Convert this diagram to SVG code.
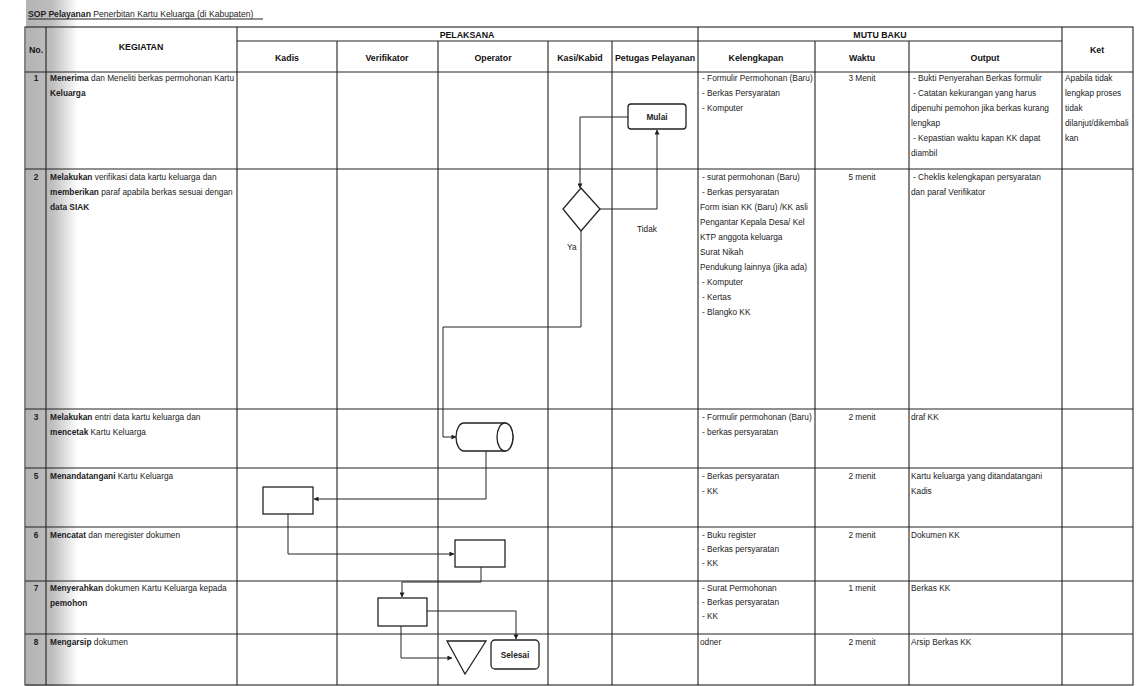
<svg xmlns="http://www.w3.org/2000/svg" width="1141" height="686" viewBox="0 0 1141 686">
<defs>
<linearGradient id="shade" x1="0" y1="0" x2="1" y2="0">
<stop offset="0" stop-color="#9a9a9a"/>
<stop offset="0.5" stop-color="#a8a8a8"/>
<stop offset="1" stop-color="#ffffff"/>
</linearGradient>
<marker id="arr" viewBox="0 0 6 6" refX="5.5" refY="3" markerWidth="5" markerHeight="5" orient="auto">
<path d="M0,0 L6,3 L0,6 z" fill="#222"/>
</marker>
<style>
.grid{stroke:#222;stroke-width:1.1;fill:none}
.t{font-family:"Liberation Sans",Arial,sans-serif;font-size:8.3px;fill:#222}
.b{font-weight:bold}
.h{font-family:"Liberation Sans",Arial,sans-serif;font-size:8.8px;font-weight:bold;fill:#111}
.c{text-anchor:middle}
.shape{fill:#fff;stroke:#222;stroke-width:1.3}
.conn{fill:none;stroke:#222;stroke-width:1}
</style>
</defs>
<rect width="1141" height="686" fill="#fff"/>
<rect x="26" y="0" width="52" height="686" fill="url(#shade)" opacity="0.75"/>
<text class="t" x="28" y="17" style="font-size:8.6px"><tspan class="b">SOP Pelayanan</tspan> Penerbitan Kartu Keluarga (di Kabupaten)</text>
<line class="grid" x1="28" y1="19" x2="263" y2="19" stroke-width="0.6"/>

<g id="table">
<rect class="grid" x="25" y="27" width="1108" height="658" stroke-width="1.5"/>
<line class="grid" x1="237" y1="41" x2="1062" y2="41"/>
<line class="grid" x1="25" y1="72" x2="1133" y2="72"/>
<line class="grid" x1="25" y1="169" x2="1133" y2="169"/>
<line class="grid" x1="25" y1="409" x2="1133" y2="409"/>
<line class="grid" x1="25" y1="468" x2="1133" y2="468"/>
<line class="grid" x1="25" y1="527" x2="1133" y2="527"/>
<line class="grid" x1="25" y1="581" x2="1133" y2="581"/>
<line class="grid" x1="25" y1="634" x2="1133" y2="634"/>
<line class="grid" x1="46" y1="27" x2="46" y2="685"/>
<line class="grid" x1="237" y1="27" x2="237" y2="685"/>
<line class="grid" x1="337" y1="41" x2="337" y2="685"/>
<line class="grid" x1="438" y1="41" x2="438" y2="685"/>
<line class="grid" x1="548" y1="41" x2="548" y2="685"/>
<line class="grid" x1="612" y1="41" x2="612" y2="685"/>
<line class="grid" x1="698" y1="27" x2="698" y2="685"/>
<line class="grid" x1="815" y1="41" x2="815" y2="685"/>
<line class="grid" x1="909" y1="41" x2="909" y2="685"/>
<line class="grid" x1="1062" y1="27" x2="1062" y2="685"/>

<text class="h c" x="36" y="53">No.</text>
<text class="h c" x="141" y="50">KEGIATAN</text>
<text class="h c" x="467" y="38">PELAKSANA</text>
<text class="h c" x="880" y="38">MUTU BAKU</text>
<text class="h c" x="287" y="61">Kadis</text>
<text class="h c" x="387" y="61">Verifikator</text>
<text class="h c" x="493" y="61">Operator</text>
<text class="h c" x="580" y="61">Kasi/Kabid</text>
<text class="h c" x="655" y="61">Petugas Pelayanan</text>
<text class="h c" x="756" y="61">Kelengkapan</text>
<text class="h c" x="862" y="61">Waktu</text>
<text class="h c" x="985" y="61">Output</text>
<text class="h c" x="1097" y="53">Ket</text>

<!-- numbers -->
<text class="t b c" x="36" y="81">1</text>
<text class="t b c" x="36" y="180">2</text>
<text class="t b c" x="36" y="420">3</text>
<text class="t b c" x="36" y="479">5</text>
<text class="t b c" x="36" y="538">6</text>
<text class="t b c" x="36" y="591">7</text>
<text class="t b c" x="36" y="645">8</text>

<!-- kegiatan -->
<text class="t" x="50" y="81"><tspan class="b">Menerima</tspan> dan Meneliti berkas permohonan Kartu</text>
<text class="t b" x="50" y="96">Keluarga</text>
<text class="t" x="50" y="180"><tspan class="b">Melakukan</tspan> verifikasi data kartu keluarga dan</text>
<text class="t" x="50" y="195"><tspan class="b">memberikan</tspan> paraf apabila berkas sesuai dengan</text>
<text class="t b" x="50" y="210">data SIAK</text>
<text class="t" x="50" y="420"><tspan class="b">Melakukan</tspan> entri data kartu keluarga dan</text>
<text class="t" x="50" y="435"><tspan class="b">mencetak</tspan> Kartu Keluarga</text>
<text class="t" x="50" y="479"><tspan class="b">Menandatangani</tspan> Kartu Keluarga</text>
<text class="t" x="50" y="538"><tspan class="b">Mencatat</tspan> dan meregister dokumen</text>
<text class="t" x="50" y="591"><tspan class="b">Menyerahkan</tspan> dokumen Kartu Keluarga kepada</text>
<text class="t b" x="50" y="606">pemohon</text>
<text class="t" x="50" y="645"><tspan class="b">Mengarsip</tspan> dokumen</text>

<!-- kelengkapan -->
<text class="t" x="702" y="81"> - Formulir Permohonan (Baru)</text>
<text class="t" x="702" y="96">- Berkas Persyaratan</text>
<text class="t" x="702" y="111">- Komputer</text>
<text class="t" x="702" y="180">- surat permohonan (Baru)</text>
<text class="t" x="702" y="195">- Berkas persyaratan</text>
<text class="t" x="700" y="210">Form isian KK (Baru) /KK asli</text>
<text class="t" x="700" y="225">Pengantar Kepala Desa/ Kel</text>
<text class="t" x="700" y="240">KTP anggota keluarga</text>
<text class="t" x="700" y="255">Surat Nikah</text>
<text class="t" x="700" y="270">Pendukung lainnya (jika ada)</text>
<text class="t" x="702" y="285">- Komputer</text>
<text class="t" x="702" y="300">- Kertas</text>
<text class="t" x="702" y="315">- Blangko KK</text>
<text class="t" x="702" y="420">- Formulir permohonan (Baru)</text>
<text class="t" x="702" y="435">- berkas persyaratan</text>
<text class="t" x="702" y="479">- Berkas persyaratan</text>
<text class="t" x="702" y="494">- KK</text>
<text class="t" x="702" y="538">- Buku register</text>
<text class="t" x="702" y="552">- Berkas persyaratan</text>
<text class="t" x="702" y="566">- KK</text>
<text class="t" x="702" y="591">- Surat Permohonan</text>
<text class="t" x="702" y="605">- Berkas persyaratan</text>
<text class="t" x="702" y="619">- KK</text>
<text class="t" x="700" y="645">odner</text>

<!-- waktu -->
<text class="t c" x="862" y="81">3 Menit</text>
<text class="t c" x="862" y="180">5 menit</text>
<text class="t c" x="862" y="420">2 menit</text>
<text class="t c" x="862" y="479">2 menit</text>
<text class="t c" x="862" y="538">2 menit</text>
<text class="t c" x="862" y="591">1 menit</text>
<text class="t c" x="862" y="645">2 menit</text>

<!-- output -->
<text class="t" x="913" y="81"> - Bukti Penyerahan Berkas formulir</text>
<text class="t" x="913" y="96"> - Catatan kekurangan yang harus</text>
<text class="t" x="911" y="111">dipenuhi pemohon jika berkas kurang</text>
<text class="t" x="911" y="126">lengkap</text>
<text class="t" x="913" y="141"> - Kepastian waktu kapan KK dapat</text>
<text class="t" x="911" y="156">diambil</text>
<text class="t" x="913" y="180"> - Cheklis kelengkapan persyaratan</text>
<text class="t" x="911" y="195">dan paraf Verifikator</text>
<text class="t" x="911" y="420">draf KK</text>
<text class="t" x="911" y="479">Kartu keluarga yang ditandatangani</text>
<text class="t" x="911" y="494">Kadis</text>
<text class="t" x="911" y="538">Dokumen KK</text>
<text class="t" x="911" y="591">Berkas KK</text>
<text class="t" x="911" y="645">Arsip Berkas KK</text>

<!-- ket -->
<text class="t" x="1065" y="81">Apabila tidak</text>
<text class="t" x="1065" y="96">lengkap proses</text>
<text class="t" x="1065" y="111">tidak</text>
<text class="t" x="1065" y="126">dilanjut/dikembali</text>
<text class="t" x="1065" y="141">kan</text>
</g>

<g id="connectors">
<polyline class="conn" points="628,117 580,117 580,188" marker-end="url(#arr)"/>
<polyline class="conn" points="600,209 657,209 657,130" marker-end="url(#arr)"/>
<polyline class="conn" points="581,231 581,327 443,327 443,437 456,437" marker-end="url(#arr)"/>
<polyline class="conn" points="486,451 486,499 314,499" marker-end="url(#arr)"/>
<polyline class="conn" points="288,514 288,554 454,554" marker-end="url(#arr)"/>
<polyline class="conn" points="481,567 481,582 402,582 402,597" marker-end="url(#arr)"/>
<polyline class="conn" points="427,611 516,611 516,639" marker-end="url(#arr)"/>
<polyline class="conn" points="401,626 401,658 452,658" marker-end="url(#arr)"/>
<text class="t" x="637" y="232">Tidak</text>
<text class="t" x="567" y="250">Ya</text>
</g>

<g id="mulai">
<rect class="shape" x="628" y="104" width="58" height="25" rx="3"/>
<text class="t b c" x="657" y="120">Mulai</text>
</g>
<g id="keputusan">
<polygon class="shape" points="581,188 600,209 581,231 563,209"/>
</g>
<g id="entri-data">
<path class="shape" d="M464,423 L505,423 A8,14 0 0 1 505,451 L464,451 A8,14 0 0 1 464,423 Z"/>
<ellipse class="shape" cx="505" cy="437" rx="8" ry="14"/>
</g>
<g id="tandatangan">
<rect class="shape" x="263" y="487" width="50" height="27"/>
</g>
<g id="register">
<rect class="shape" x="455" y="540" width="50" height="27"/>
</g>
<g id="serahkan">
<rect class="shape" x="378" y="598" width="49" height="28"/>
</g>
<g id="arsip">
<polygon class="shape" points="447,641 486,641 465,674"/>
</g>
<g id="selesai">
<rect class="shape" x="491" y="640" width="48" height="29" rx="4"/>
<text class="t b c" x="515" y="658">Selesai</text>
</g>
</svg>
